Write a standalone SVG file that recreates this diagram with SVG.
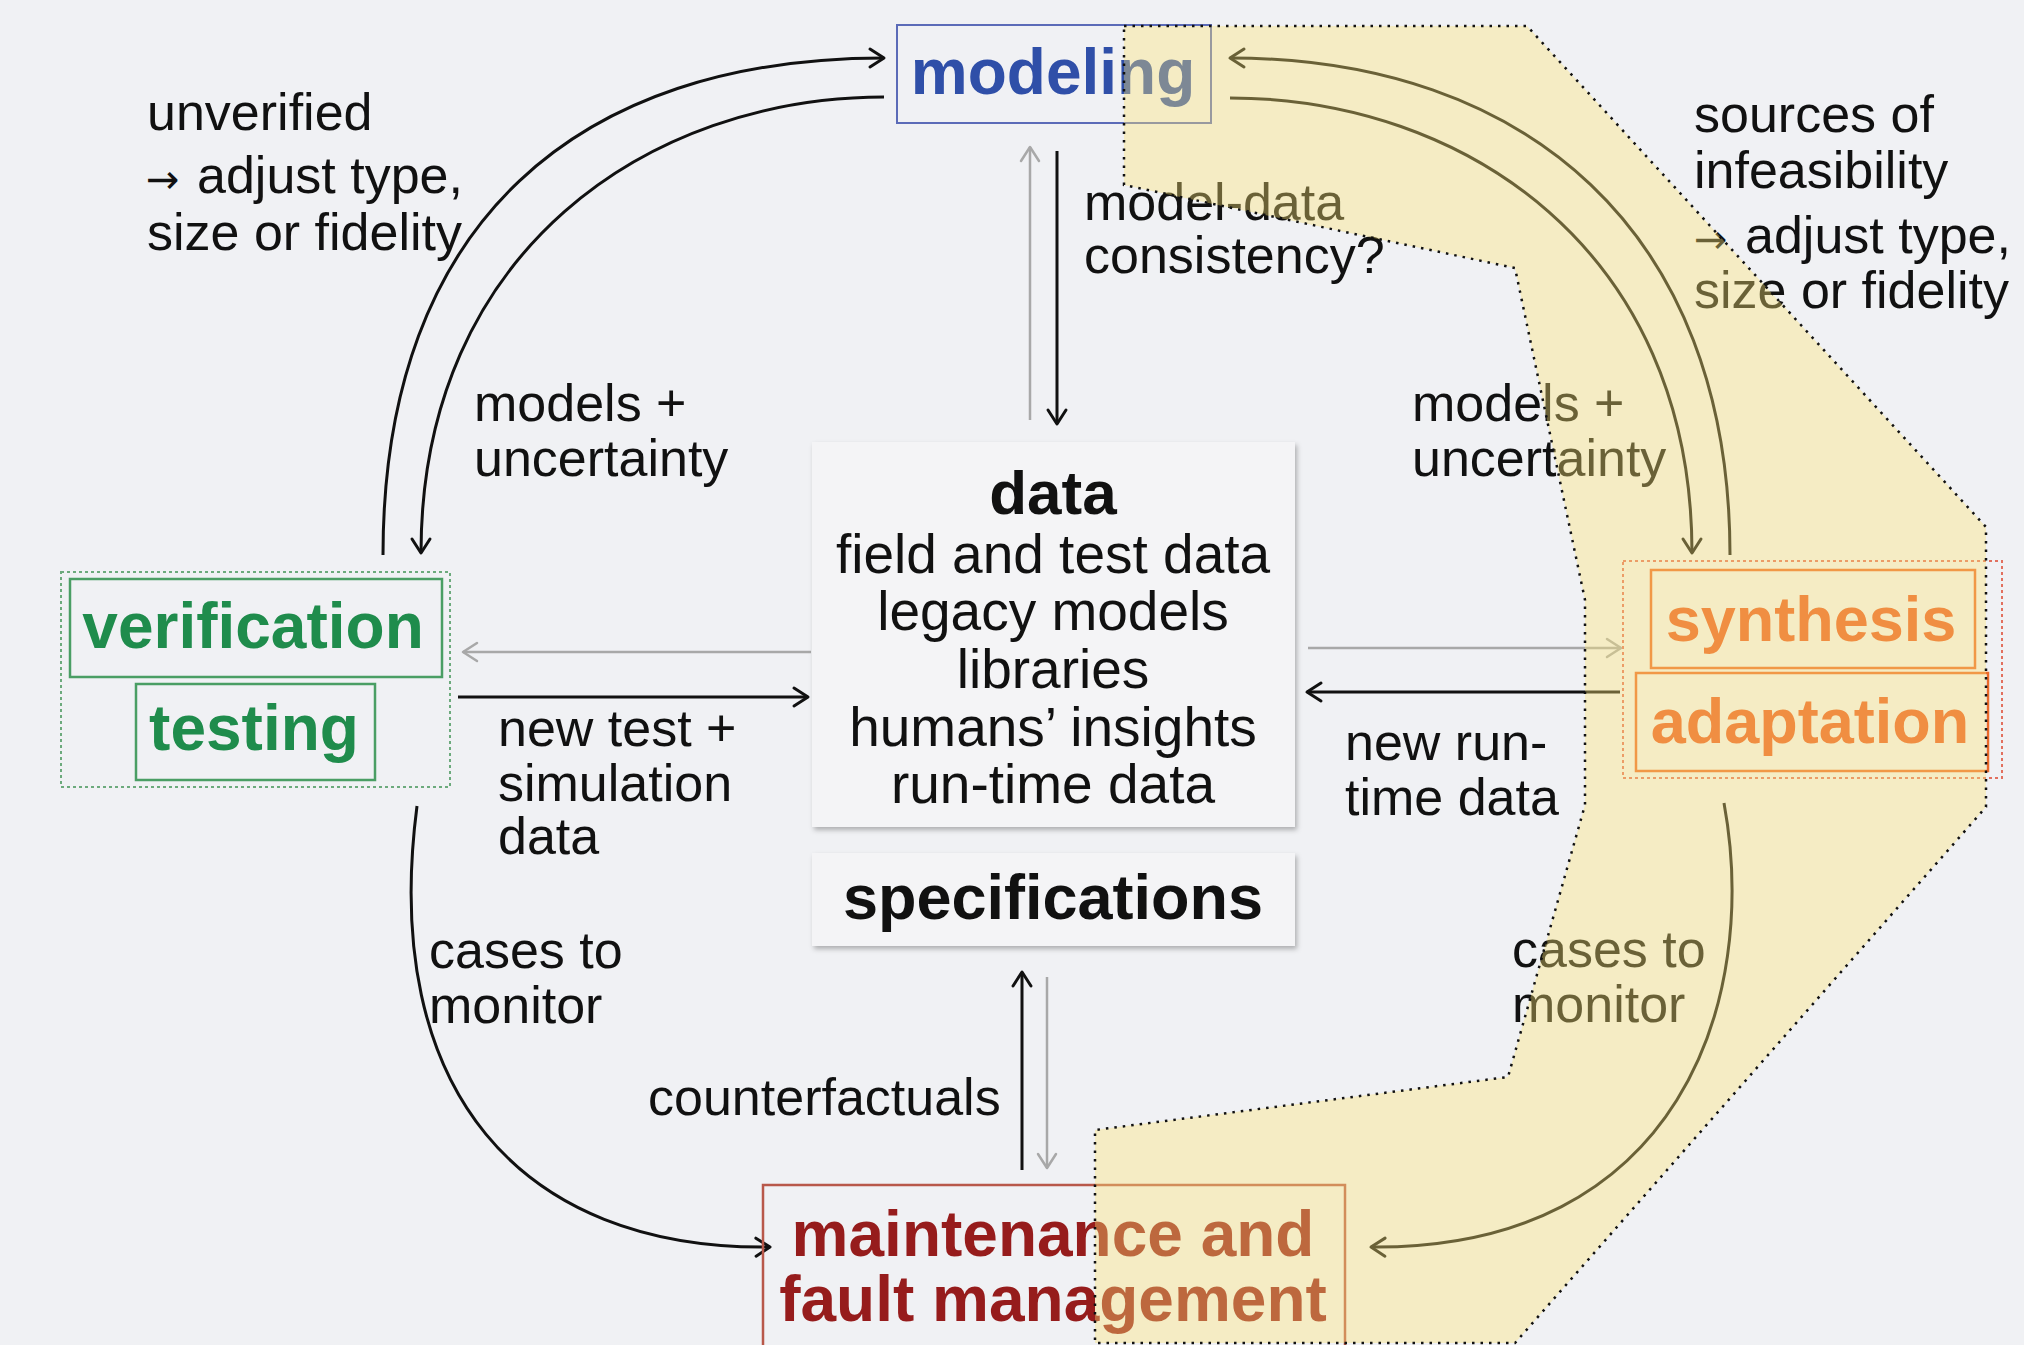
<svg xmlns="http://www.w3.org/2000/svg" width="2024" height="1345" viewBox="0 0 2024 1345">
  <defs>
    <style>
      .lbl { font-family: "Liberation Sans", Arial, sans-serif; font-size: 52px; fill: #111; }
      .arr { font-family: "DejaVu Sans", sans-serif; font-size: 40px; }
      .body { font-family: "Liberation Sans", Arial, sans-serif; font-size: 55px; fill: #111; text-anchor: middle; }
      .head { font-family: "Liberation Sans", Arial, sans-serif; font-weight: bold; text-anchor: middle; }
      .wire { fill: none; stroke: #111; stroke-width: 3; }
      .wire-g { fill: none; stroke: #a8a8a8; stroke-width: 2.5; }
      .panel { fill: #f4f4f6; filter: url(#shadow); }
    </style>
    <filter id="shadow" x="-5%" y="-5%" width="112%" height="115%">
      <feDropShadow dx="2" dy="3" stdDeviation="2.5" flood-color="#000" flood-opacity="0.28"/>
    </filter>
    <marker id="ah" viewBox="-18 -12 22 24" refX="0" refY="0" markerWidth="22" markerHeight="24" markerUnits="userSpaceOnUse" orient="auto" overflow="visible">
      <path d="M-14,-9 L0,0 L-14,9" fill="none" stroke="#111" stroke-width="3" stroke-linecap="round" stroke-linejoin="round"/>
    </marker>
    <marker id="ah-g" viewBox="-18 -12 22 24" refX="0" refY="0" markerWidth="22" markerHeight="24" markerUnits="userSpaceOnUse" orient="auto" overflow="visible">
      <path d="M-14,-9 L0,0 L-14,9" fill="none" stroke="#a8a8a8" stroke-width="2.5" stroke-linecap="round" stroke-linejoin="round"/>
    </marker>
  </defs>

  <!-- page -->
  <rect x="0" y="0" width="2024" height="1345" fill="#f0f1f4"/>

  <!-- connectors -->
  <g id="connectors">
    <!-- modeling <-> verification/testing -->
    <path class="wire" d="M383,555 C383,220 580,58 884,58" marker-end="url(#ah)"/>
    <path class="wire" d="M884,97 C650,97 421,250 421,553" marker-end="url(#ah)"/>
    <!-- modeling <-> synthesis/adaptation -->
    <path class="wire" d="M1730,555 C1730,230 1525,58 1230,58" marker-end="url(#ah)"/>
    <path class="wire" d="M1230,98 C1464,98 1692,250 1692,553" marker-end="url(#ah)"/>
    <!-- cases to monitor -->
    <path class="wire" d="M417,806 C380,1090 520,1250 770,1247" marker-end="url(#ah)"/>
    <path class="wire" d="M1724,803 C1760,1000 1680,1250 1371,1247" marker-end="url(#ah)"/>
    <!-- modeling <-> data -->
    <path class="wire-g" d="M1030,420 L1030,147" marker-end="url(#ah-g)"/>
    <path class="wire" d="M1057,151 L1057,424" marker-end="url(#ah)"/>
    <!-- data <-> verification/testing -->
    <path class="wire-g" d="M811,652 L463,652" marker-end="url(#ah-g)"/>
    <path class="wire" d="M458,697 L808,697" marker-end="url(#ah)"/>
    <!-- data <-> synthesis/adaptation -->
    <path class="wire-g" d="M1308,648 L1621,648" marker-end="url(#ah-g)"/>
    <path class="wire" d="M1620,692 L1307,692" marker-end="url(#ah)"/>
    <!-- specifications <-> maintenance -->
    <path class="wire" d="M1022,1170 L1022,972" marker-end="url(#ah)"/>
    <path class="wire-g" d="M1047,977 L1047,1168" marker-end="url(#ah-g)"/>
  </g>

  <!-- nodes -->
  <g id="modeling">
    <rect x="897" y="25" width="314" height="98" fill="none" stroke="#5b6bb8" stroke-width="2"/>
    <text class="head" x="1053" y="94" font-size="64" fill="#2f4fa8">modeling</text>
  </g>

  <g id="data">
    <rect class="panel" x="812" y="442" width="483" height="385"/>
    <text class="head" x="1053" y="514" font-size="62" fill="#111">data</text>
    <text class="body" x="1053" y="573">field and test data</text>
    <text class="body" x="1053" y="630">legacy models</text>
    <text class="body" x="1053" y="688">libraries</text>
    <text class="body" x="1053" y="746">humans’ insights</text>
    <text class="body" x="1053" y="803">run-time data</text>
  </g>

  <g id="specifications">
    <rect class="panel" x="812" y="853" width="483" height="93"/>
    <text class="head" x="1053" y="919" font-size="63" fill="#111">specifications</text>
  </g>

  <g id="verification-testing">
    <rect x="61" y="572" width="389" height="215" fill="none" stroke="#6caa7c" stroke-width="2" stroke-dasharray="3 3"/>
    <g id="verification">
      <rect x="70" y="579" width="372" height="98" fill="none" stroke="#4a9e64" stroke-width="2.5"/>
      <text class="head" x="253" y="648" font-size="64" fill="#1f8c4c">verification</text>
    </g>
    <g id="testing">
      <rect x="136" y="684" width="239" height="96" fill="none" stroke="#4a9e64" stroke-width="2.5"/>
      <text class="head" x="254" y="750" font-size="64" fill="#1f8c4c">testing</text>
    </g>
  </g>

  <g id="synthesis-adaptation">
    <rect x="1623" y="561" width="379" height="217" fill="none" stroke="#e2705e" stroke-width="2" stroke-dasharray="3 3"/>
    <g id="synthesis">
      <rect x="1651" y="570" width="324" height="98" fill="none" stroke="#ea6a2a" stroke-width="2.5"/>
      <text class="head" x="1811" y="641" font-size="63" fill="#e85a22">synthesis</text>
    </g>
    <g id="adaptation">
      <rect x="1636" y="673" width="352" height="98" fill="none" stroke="#ea6a2a" stroke-width="2.5"/>
      <text class="head" x="1810" y="743" font-size="63" fill="#e85a22">adaptation</text>
    </g>
  </g>

  <g id="maintenance">
    <rect x="763" y="1185" width="582" height="170" fill="none" stroke="#b8584a" stroke-width="2.5"/>
    <text class="head" x="1053" y="1256" font-size="64" fill="#961c1c">maintenance and</text>
    <text class="head" x="1053" y="1321" font-size="64" fill="#961c1c">fault management</text>
  </g>

  <!-- connector labels -->
  <g id="labels">
    <text class="lbl" x="147" y="130">unverified</text>
    <text class="lbl" y="193"><tspan class="arr" x="146">→</tspan><tspan x="197">adjust type,</tspan></text>
    <text class="lbl" x="147" y="250">size or fidelity</text>

    <text class="lbl" x="474" y="421">models +</text>
    <text class="lbl" x="474" y="476">uncertainty</text>

    <text class="lbl" x="1084" y="220">model-data</text>
    <text class="lbl" x="1084" y="273">consistency?</text>

    <text class="lbl" x="1694" y="132">sources of</text>
    <text class="lbl" x="1694" y="188">infeasibility</text>
    <text class="lbl" y="253"><tspan class="arr" x="1694">→</tspan><tspan x="1745">adjust type,</tspan></text>
    <text class="lbl" x="1694" y="308">size or fidelity</text>

    <text class="lbl" x="1412" y="421">models +</text>
    <text class="lbl" x="1412" y="476">uncertainty</text>

    <text class="lbl" x="498" y="746">new test +</text>
    <text class="lbl" x="498" y="801">simulation</text>
    <text class="lbl" x="498" y="854">data</text>

    <text class="lbl" x="1345" y="760">new run-</text>
    <text class="lbl" x="1345" y="815">time data</text>

    <text class="lbl" x="429" y="968">cases to</text>
    <text class="lbl" x="429" y="1023">monitor</text>

    <text class="lbl" x="1512" y="967">cases to</text>
    <text class="lbl" x="1512" y="1022">monitor</text>

    <text class="lbl" x="648" y="1115">counterfactuals</text>
  </g>

  <!-- translucent highlight band over the right-hand loop -->
  <g id="highlight">
    <polygon points="1124,26 1527,26 1986,527 1986,807 1515,1343 1095,1343 1095,1130 1508,1077 1585,805 1585,600 1515,268 1124,185"
             fill="#fde676" fill-opacity="0.38" stroke="none"/>
    <polygon points="1124,26 1527,26 1986,527 1986,807 1515,1343 1095,1343 1095,1130 1508,1077 1585,805 1585,600 1515,268 1124,185"
             fill="none" stroke="#111" stroke-width="2.5" stroke-dasharray="2.5 6"/>
  </g>
</svg>
